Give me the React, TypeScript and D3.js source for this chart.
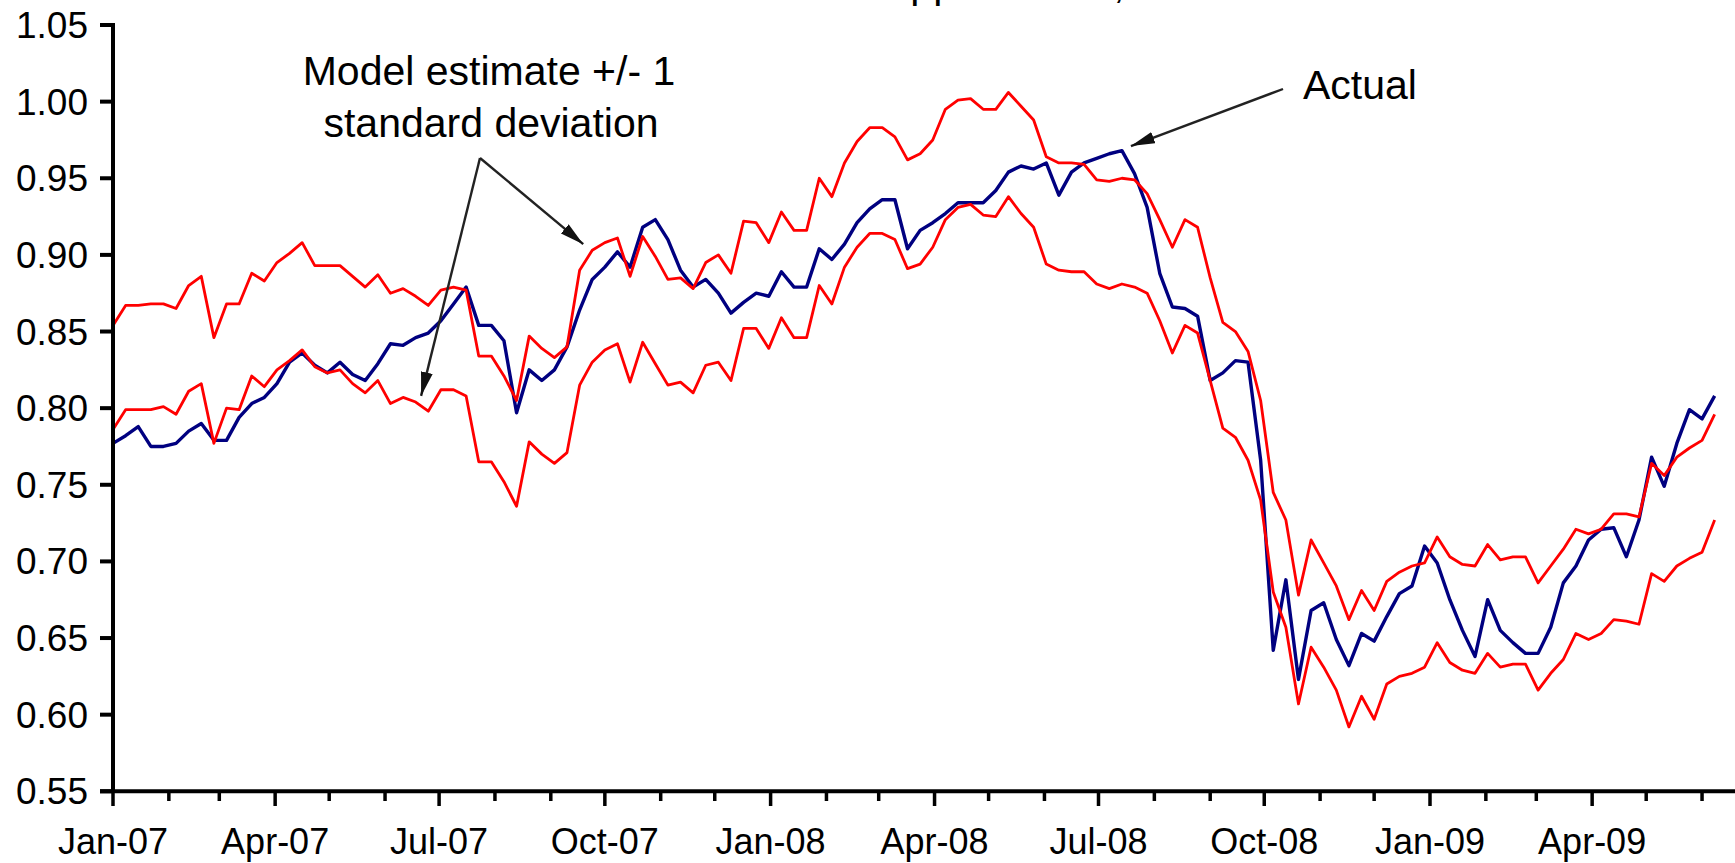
import React from 'react';
import * as d3 from 'd3';

const WIDTH = 1735;
const HEIGHT = 863;
const FONT = '"Liberation Sans", Arial, sans-serif';

// weekly observations, first one on the first Monday of 2007
const firstWeek = new Date(Date.UTC(2007, 0, 1));

// AUD/USD actual (weekly)
const actual = [
  0.777, 0.782, 0.788, 0.775, 0.775, 0.777, 0.785, 0.790, 0.779, 0.779,
  0.794, 0.803, 0.807, 0.816, 0.830, 0.836, 0.828, 0.823, 0.830, 0.822,
  0.818, 0.829, 0.842, 0.841, 0.846, 0.849, 0.857, 0.868, 0.879, 0.854,
  0.854, 0.844, 0.797, 0.825, 0.818, 0.825, 0.840, 0.864, 0.884, 0.892,
  0.902, 0.892, 0.918, 0.923, 0.910, 0.890, 0.879, 0.884, 0.875, 0.862,
  0.869, 0.875, 0.873, 0.889, 0.879, 0.879, 0.904, 0.897, 0.907, 0.921,
  0.930, 0.936, 0.936, 0.904, 0.916, 0.921, 0.927, 0.934, 0.934, 0.934,
  0.942, 0.954, 0.958, 0.956, 0.960, 0.939, 0.954, 0.960, 0.963, 0.966,
  0.968, 0.953, 0.931, 0.888, 0.866, 0.865, 0.860, 0.818, 0.823, 0.831,
  0.830, 0.766, 0.642, 0.688, 0.623, 0.668, 0.673, 0.649, 0.632, 0.653,
  0.648, 0.664, 0.679, 0.684, 0.710, 0.699, 0.675, 0.655, 0.638, 0.675,
  0.655, 0.647, 0.640, 0.640, 0.657, 0.686, 0.697, 0.714, 0.721, 0.722,
  0.703, 0.727, 0.768, 0.749, 0.777, 0.799, 0.793, 0.808,
];

// model estimate + 1 standard deviation
const upperBand = [
  0.854, 0.867, 0.867, 0.868, 0.868, 0.865, 0.880, 0.886, 0.846, 0.868,
  0.868, 0.888, 0.883, 0.895, 0.901, 0.908, 0.893, 0.893, 0.893, 0.886,
  0.879, 0.887, 0.875, 0.878, 0.873, 0.867, 0.877, 0.879, 0.877, 0.834,
  0.834, 0.821, 0.805, 0.847, 0.839, 0.833, 0.840, 0.890, 0.903, 0.908,
  0.911, 0.886, 0.912, 0.899, 0.884, 0.885, 0.878, 0.895, 0.900, 0.888,
  0.922, 0.921, 0.908, 0.928, 0.916, 0.916, 0.950, 0.938, 0.960, 0.974,
  0.983, 0.983, 0.977, 0.962, 0.966, 0.975, 0.995, 1.001, 1.002, 0.995,
  0.995, 1.006, 0.997, 0.988, 0.964, 0.960, 0.960, 0.959, 0.949, 0.948,
  0.950, 0.949, 0.940, 0.923, 0.905, 0.923, 0.918, 0.885, 0.856, 0.850,
  0.837, 0.805, 0.745, 0.727, 0.678, 0.714, 0.699, 0.684, 0.662, 0.681,
  0.668, 0.687, 0.693, 0.697, 0.699, 0.716, 0.703, 0.698, 0.697, 0.711,
  0.701, 0.703, 0.703, 0.686, 0.697, 0.708, 0.721, 0.718, 0.721, 0.731,
  0.731, 0.729, 0.764, 0.756, 0.768, 0.774, 0.779, 0.796,
];

// model estimate - 1 standard deviation
const lowerBand = [
  0.786, 0.799, 0.799, 0.799, 0.801, 0.796, 0.811, 0.816, 0.777, 0.800,
  0.799, 0.821, 0.814, 0.825, 0.831, 0.838, 0.827, 0.823, 0.825, 0.816,
  0.810, 0.818, 0.803, 0.807, 0.804, 0.798, 0.812, 0.812, 0.808, 0.765,
  0.765, 0.752, 0.736, 0.778, 0.770, 0.764, 0.771, 0.815, 0.830, 0.838,
  0.842, 0.817, 0.843, 0.829, 0.815, 0.817, 0.810, 0.828, 0.830, 0.818,
  0.852, 0.852, 0.839, 0.859, 0.846, 0.846, 0.880, 0.868, 0.892, 0.905,
  0.914, 0.914, 0.910, 0.891, 0.894, 0.905, 0.923, 0.931, 0.933, 0.926,
  0.925, 0.938, 0.927, 0.918, 0.894, 0.890, 0.889, 0.889, 0.881, 0.878,
  0.881, 0.879, 0.875, 0.857, 0.836, 0.854, 0.849, 0.818, 0.787, 0.781,
  0.766, 0.740, 0.680, 0.657, 0.607, 0.644, 0.631, 0.616, 0.592, 0.612,
  0.597, 0.620, 0.625, 0.627, 0.631, 0.647, 0.634, 0.629, 0.627, 0.640,
  0.631, 0.633, 0.633, 0.616, 0.627, 0.636, 0.653, 0.649, 0.653, 0.662,
  0.661, 0.659, 0.692, 0.687, 0.697, 0.702, 0.706, 0.727,
];

const yTickValues = [0.55, 0.6, 0.65, 0.7, 0.75, 0.8, 0.85, 0.9, 0.95, 1.0, 1.05];
const xTickLabels = ['Jan-07', 'Apr-07', 'Jul-07', 'Oct-07', 'Jan-08', 'Apr-08', 'Jul-08', 'Oct-08', 'Jan-09', 'Apr-09'];

// where the annotation arrows point, in data space
const bandArrowTargets = [
  { date: new Date(Date.UTC(2007, 8, 19)), value: 0.907 },
  { date: new Date(Date.UTC(2007, 5, 21)), value: 0.808 },
];
const actualArrowTarget = { date: new Date(Date.UTC(2008, 6, 19)), value: 0.971 };

export default function App() {
  const x = d3.scaleUtc()
    .domain([new Date(Date.UTC(2007, 0, 1)), new Date(Date.UTC(2009, 0, 1))])
    .range([113, 1430]);
  const y = d3.scaleLinear().domain([0.55, 1.05]).range([791.3, 25]);

  const dates = actual.map((_, i) => d3.utcDay.offset(firstWeek, 7 * i));
  const line = d3.line<number>()
    .x((_, i) => x(dates[i]))
    .y(v => y(v));

  const parseTick = d3.utcParse('%b-%y');
  const months = d3.utcMonth.range(new Date(Date.UTC(2007, 0, 1)), new Date(Date.UTC(2009, 7, 1)));
  const x0 = 113;
  const y0 = y(0.55);

  const apex = { x: 480, y: 158 };

  return (
    <>
      <style>{'body{margin:0}'}</style>
      <svg width={WIDTH} height={HEIGHT} viewBox={`0 0 ${WIDTH} ${HEIGHT}`} style={{ display: 'block', background: '#fff' }} fontFamily={FONT}>
        <defs>
          <marker id="arrow" viewBox="0 0 24 12" refX="24" refY="6" markerWidth="24" markerHeight="12" markerUnits="userSpaceOnUse" orient="auto">
            <path d="M0,0 L24,6 L0,12 Z" fill="#111" />
          </marker>
        </defs>

        {/* chart title, mostly cropped above the frame */}
        <text x={883} y={-2} fontSize={41} fill="#000">Approximate, AUD</text>

        {/* series */}
        <path d={line(actual) ?? ''} fill="none" stroke="#000080" strokeWidth={3.4} strokeLinejoin="round" />
        <path d={line(upperBand) ?? ''} fill="none" stroke="#ff0000" strokeWidth={2.8} strokeLinejoin="round" />
        <path d={line(lowerBand) ?? ''} fill="none" stroke="#ff0000" strokeWidth={2.8} strokeLinejoin="round" />

        {/* y axis */}
        <line x1={x0} x2={x0} y1={y(1.05) - 2} y2={y0} stroke="#000" strokeWidth={4} />
        {yTickValues.map(v => (
          <g key={v}>
            <line x1={100} x2={x0} y1={y(v)} y2={y(v)} stroke="#000" strokeWidth={4} />
            <text x={88} y={y(v) + 13} fontSize={37} textAnchor="end" fill="#000">{v.toFixed(2)}</text>
          </g>
        ))}

        {/* x axis */}
        <line x1={100} x2={WIDTH} y1={y0} y2={y0} stroke="#000" strokeWidth={4} />
        {months.map(m => {
          const major = m.getUTCMonth() % 3 === 0;
          return (
            <line key={m.getTime()} x1={x(m)} x2={x(m)} y1={y0} y2={major ? 806 : 801} stroke="#000" strokeWidth={3.5} />
          );
        })}
        {xTickLabels.map(label => (
          <text key={label} x={x(parseTick(label)!)} y={854} fontSize={36} textAnchor="middle" fill="#000">{label}</text>
        ))}

        {/* annotations */}
        <text x={489} y={85} fontSize={41} textAnchor="middle" fill="#000">Model estimate +/- 1</text>
        <text x={491} y={137} fontSize={41} textAnchor="middle" fill="#000">standard deviation</text>
        {bandArrowTargets.map((t, i) => (
          <line key={i} x1={apex.x} y1={apex.y} x2={x(t.date)} y2={y(t.value)} stroke="#222" strokeWidth={2.4} markerEnd="url(#arrow)" />
        ))}

        <text x={1303} y={99} fontSize={41} fill="#000">Actual</text>
        <line x1={1283} y1={89} x2={x(actualArrowTarget.date)} y2={y(actualArrowTarget.value)} stroke="#222" strokeWidth={2.4} markerEnd="url(#arrow)" />
      </svg>
    </>
  );
}
